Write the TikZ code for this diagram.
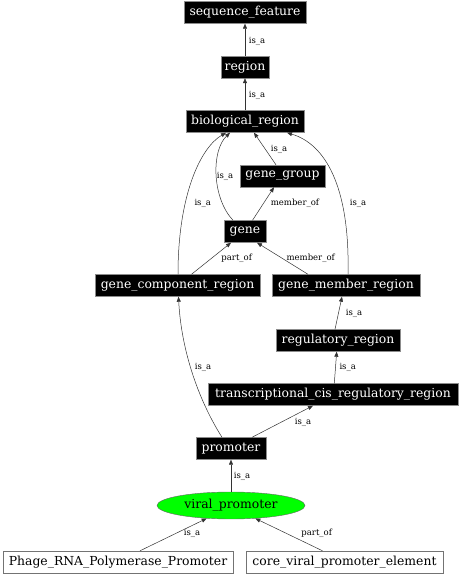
\documentclass[tikz,border=0pt]{standalone}
\usepackage{fontspec}
\setmainfont{DejaVu Serif}
\usetikzlibrary{arrows.meta,shapes.geometric}
\begin{document}
\begin{tikzpicture}[x=1pt,y=1pt,
  blk/.style={draw=black!45,fill=black,text=white,inner sep=0pt,minimum height=22pt,font=\fontsize{12.4}{14}\selectfont},
  wht/.style={draw=black!55,fill=white,text=black,inner sep=0pt,minimum height=22pt,font=\fontsize{12.4}{14}\selectfont},
  ell/.style={ellipse,draw=black!60,fill=green,text=black,inner sep=0pt,minimum width=148pt,minimum height=27pt,font=\fontsize{12.4}{14}\selectfont},
  arr/.style={draw=black!80,line width=0.5pt,-{Triangle[length=5pt,width=4pt]}},
  lab/.style={font=\fontsize{8.5}{10}\selectfont,inner sep=0pt}]
\useasboundingbox (0,0) rectangle (460,576);
\node[blk,minimum width=122pt] (seq) at (245,563.5) {sequence\_feature};
\node[blk,minimum width=48pt] (region) at (245,509) {region};
\node[blk,minimum width=118pt] (bio) at (245,454.5) {biological\_region};
\node[blk,minimum width=85pt] (gg) at (282.5,400) {gene\_group};
\node[blk,minimum width=42pt] (gene) at (245,344.5) {gene};
\node[blk,minimum width=165pt] (gcr) at (177.5,290.5) {gene\_component\_region};
\node[blk,minimum width=148pt] (gmr) at (346,290.5) {gene\_member\_region};
\node[blk,minimum width=124pt] (reg) at (338,235.5) {regulatory\_region};
\node[blk,minimum width=250pt] (tcrr) at (333,181.5) {transcriptional\_cis\_regulatory\_region};
\node[blk,minimum width=70pt] (prom) at (231,127.5) {promoter};
\node[ell] (vp) at (231,70.5) {viral\_promoter};
\node[wht,minimum width=230pt] (phage) at (118,14) {Phage\_RNA\_Polymerase\_Promoter};
\node[wht,minimum width=197pt] (core) at (344.5,14) {core\_viral\_promoter\_element};

\draw[arr] (region) -- (seq);
\node[lab] (l1) at (257,535) {is\_a};
\draw[arr] (bio) -- (region);
\node[lab] (l2) at (257,481) {is\_a};
\draw[arr] ([xshift=-6.5pt]gg.north) -- ([xshift=9pt]bio.south);
\node[lab] (l3) at (279,427) {is\_a};
\draw[arr] ([xshift=-12pt]gene.north) .. controls (212,378) and (211,425) .. ([xshift=-15pt]bio.south);
\node[lab] (l4) at (225,400) {is\_a};
\draw[arr] ([xshift=7.5pt]gene.north) -- ([xshift=-8.5pt]gg.south);
\node[lab] (l5) at (295,373) {member\_of};
\draw[arr] ([xshift=0.5pt]gcr.north) .. controls (178,380) and (200,428) .. ([xshift=-19pt]bio.south);
\node[lab] (l6) at (202.7,373) {is\_a};
\draw[arr] ([xshift=2pt]gmr.north) .. controls (350,390) and (325,432) .. ([xshift=42pt]bio.south);
\node[lab] (l7) at (358,373) {is\_a};
\draw[arr] ([xshift=14pt]gcr.north) -- ([xshift=-14pt]gene.south);
\node[lab] (l8) at (236.7,318) {part\_of};
\draw[arr] ([xshift=-38pt]gmr.north) -- ([xshift=12pt]gene.south);
\node[lab] (l9) at (310.7,318) {member\_of};
\draw[arr] ([xshift=-3pt]reg.north) -- ([xshift=-4pt]gmr.south);
\node[lab] (l10) at (354,263) {is\_a};
\draw[arr] ([xshift=1.3pt]tcrr.north) -- ([xshift=-1.3pt]reg.south);
\node[lab] (l11) at (347.7,209) {is\_a};
\draw[arr] ([xshift=-9pt]prom.north) .. controls (196,180) and (181,230) .. ([xshift=1pt]gcr.south);
\node[lab] (l12) at (203,209) {is\_a};
\draw[arr] ([xshift=21pt]prom.north) -- ([xshift=-20pt]tcrr.south);
\node[lab] (l13) at (303,154) {is\_a};
\draw[arr] (vp) -- (prom);
\node[lab] (l14) at (242,100) {is\_a};
\draw[arr] ([xshift=22pt]phage.north) -- (vp.-152);
\node[lab] (l15) at (192,43) {is\_a};
\draw[arr] ([xshift=-22pt]core.north) -- (vp.-28);
\node[lab] (l16) at (316.7,43) {part\_of};
\end{tikzpicture}
\end{document}
